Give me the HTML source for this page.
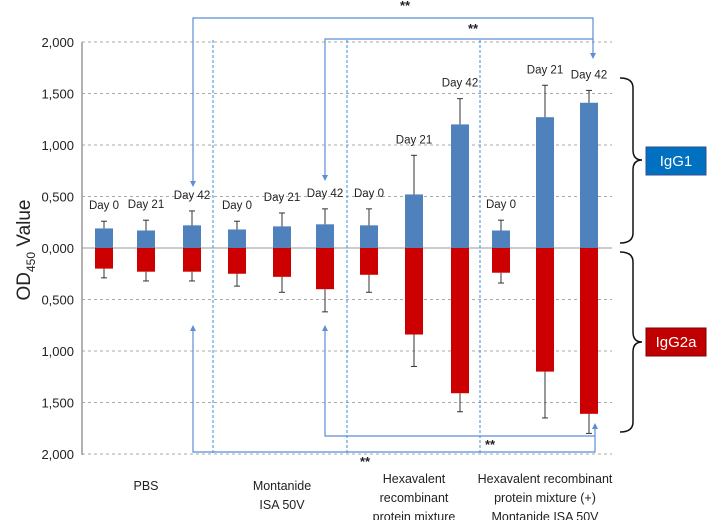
<!DOCTYPE html>
<html><head><meta charset="utf-8"><style>
body{margin:0;background:#fff;}
svg{display:block;font-family:"Liberation Sans",sans-serif;}
</style></head><body>
<svg id="chart" width="709" height="520" viewBox="0 0 709 520">
<g id="grid"></g><g id="bars"></g><g id="annot"></g>
</svg>
<script>
const groups=["PBS","Montanide ISA 50V","Hexavalent recombinant protein mixture","Hexavalent recombinant protein mixture (+) Montanide ISA 50V"];
const days=["Day 0","Day 21","Day 42"];
const igg1=[0.19,0.17,0.22, 0.18,0.21,0.23, 0.22,0.52,1.20, 0.17,1.27,1.41];
const igg1Err=[0.26,0.27,0.36, 0.26,0.34,0.38, 0.38,0.90,1.45, 0.27,1.58,1.53];
const igg2a=[0.20,0.23,0.23, 0.25,0.28,0.40, 0.26,0.84,1.41, 0.24,1.20,1.61];
const igg2aErr=[0.29,0.32,0.32, 0.37,0.43,0.62, 0.43,1.15,1.59, 0.34,1.65,1.80];
const ticks=[2,1.5,1,0.5,0,0.5,1,1.5,2];
const tickLabels=["2,000","1,500","1,000","0,500","0,000","0,500","1,000","1,500","2,000"];
const barX=[104,146,192,237,282,325,369,414,460,501,545,589];
const NS="http://www.w3.org/2000/svg";
const Y0=248,K=103;
const yUp=v=>Y0-v*K, yDown=v=>Y0+v*K;
function el(t,a,p){const e=document.createElementNS(NS,t);for(const k in a)e.setAttribute(k,a[k]);p.appendChild(e);return e;}
const grid=document.getElementById('grid'),bars=document.getElementById('bars'),an=document.getElementById('annot');
ticks.forEach((v,i)=>{const y=i<4?yUp(v):yDown(v);
 const l=el('line',{x1:82,x2:612,y1:y,y2:y,stroke:i==4?'#999':'#aaa','stroke-dasharray':i==4?'':'3,3','stroke-width':1},grid);
 
 
 const t=el('text',{x:74,y:y+5,'text-anchor':'end','font-size':13,fill:'#222'},grid);t.textContent=tickLabels[i];
 
 
});
el('line',{x1:82,x2:82,y1:42,y2:455,stroke:'#999','stroke-width':1.5},grid);
[213,347,480].forEach(x=>{const l=el('line',{x1:x,x2:x,y1:40,y2:455,stroke:'#3a8fdc','stroke-dasharray':'3,2','stroke-width':1},grid);
 
 });
const yt=el('text',{transform:'translate(30,250) rotate(-90)','text-anchor':'middle','font-size':19,fill:'#222'},grid);
yt.innerHTML='OD<tspan font-size="12" dy="5">450</tspan><tspan dy="-5"> Value</tspan>';


const W=18;
barX.forEach((x,i)=>{
 const b=el('rect',{x:x-W/2,y:yUp(igg1[i]),width:W,height:igg1[i]*K,fill:'#4f81bd'},bars);
 
 
 const r=el('rect',{x:x-W/2,y:Y0,width:W,height:igg2a[i]*K,fill:'#cc0000'},bars);
 
 
 const e1=yUp(igg1Err[i]),e2=yDown(igg2aErr[i]);
 el('line',{x1:x,x2:x,y1:yUp(igg1[i]),y2:e1,stroke:'#333'},bars);
 el('line',{x1:x-3,x2:x+3,y1:e1,y2:e1,stroke:'#333'},bars);
 el('line',{x1:x,x2:x,y1:yDown(igg2a[i]),y2:e2,stroke:'#333'},bars);
 el('line',{x1:x-3,x2:x+3,y1:e2,y2:e2,stroke:'#333'},bars);
 const t=el('text',{x:x,y:e1-12,'text-anchor':'middle','font-size':11.5,fill:'#222'},bars);
 t.textContent=days[i%3];
 
 
});
const catLines=[["PBS"],["Montanide","ISA 50V"],["Hexavalent","recombinant","protein mixture"],["Hexavalent recombinant","protein mixture (+)","Montanide ISA 50V"]];
const catX=[146,282,414,545],catY=[485,485,478,478];
catLines.forEach((ls,g)=>{const t=el('text',{x:catX[g],y:catY[g]+5,'text-anchor':'middle','font-size':12.5,fill:'#222'},grid);
 ls.forEach((s,j)=>{const ts=el('tspan',{x:catX[g],dy:j?19:0},t);ts.textContent=s;});
 
 });
const C='#5b8fd6';
function pl(pts){el('polyline',{points:pts,fill:'none',stroke:C,'stroke-width':1.2},an);}
function arrow(x,y,dir){el('polygon',{points:dir>0?`${x-3},${y-6} ${x+3},${y-6} ${x},${y}`:`${x-3},${y+6} ${x+3},${y+6} ${x},${y}`,fill:C},an);}
pl('193,186 193,18 593,18 593,58');arrow(193,187,1);
pl('325,180 325,39 593,39');arrow(325,181,1);arrow(593,59,1);
pl('193,326 193,452 595,452 595,424');arrow(193,325,-1);arrow(595,423,-1);
pl('325,326 325,436 595,436');arrow(325,325,-1);
[[405,10],[473,33],[490,449],[365,466]].forEach(p=>{const t=el('text',{x:p[0],y:p[1],'text-anchor':'middle','font-size':13,'font-weight':'bold',fill:'#222'},an);t.textContent='**';
 
 });
el('path',{d:'M620,78 Q633,78 633,88 L633,150 Q633,160 642,160 Q633,160 633,170 L633,233 Q633,243 620,243',fill:'none',stroke:'#111','stroke-width':1.5},an);
el('path',{d:'M620,252 Q633,252 633,262 L633,332 Q633,342 642,342 Q633,342 633,352 L633,422 Q633,432 620,432',fill:'none',stroke:'#111','stroke-width':1.5},an);
const b1=el('rect',{x:646,y:147,width:60,height:28,fill:'#0070c0',stroke:'#2f528f'},an);


const t1=el('text',{x:676,y:166,'text-anchor':'middle','font-size':15,fill:'#fff'},an);t1.textContent='IgG1';


const b2=el('rect',{x:646,y:328,width:60,height:28,fill:'#c00000',stroke:'#7f0000'},an);


const t2=el('text',{x:676,y:347,'text-anchor':'middle','font-size':15,fill:'#fff'},an);t2.textContent='IgG2a';


</script>
</body></html>
